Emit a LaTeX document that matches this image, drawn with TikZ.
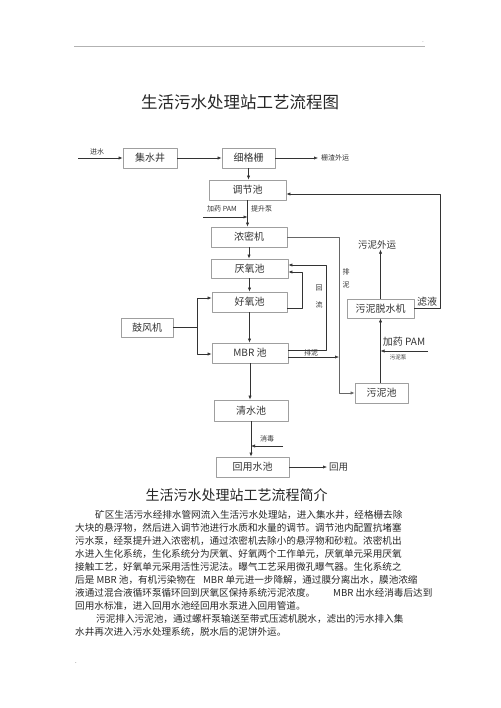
\documentclass[tikz,border=0pt]{standalone}
\usepackage{fontspec}
\newfontfamily\cjk{Noto Sans CJK SC}
\usetikzlibrary{arrows.meta}
\begin{document}
\begin{tikzpicture}[x=1pt,y=-1pt,line join=round,font=\cjk,
	box/.style={draw=gray!75,line width=.7pt,minimum height=20pt,inner sep=0pt,
		text=black!80,font=\cjk\fontsize{10}{11}\selectfont},
	flow/.style={-{Latex[length=4pt,width=3.2pt]},line width=.6pt,draw=black!80},
	link/.style={line width=.6pt,draw=black!80},
	tag/.style={inner sep=0pt,text=black!80,font=\cjk\fontsize{7}{8}\selectfont},
	mid/.style={inner sep=0pt,text=black!80,font=\cjk\fontsize{9.5}{10}\selectfont},
	txt/.style={anchor=west,inner sep=0pt,text=black!85,font=\cjk\fontsize{9.6}{10}\selectfont}]
	\useasboundingbox (0,0) rectangle (500,708);
	% page rule and title
	\draw[gray!60,line width=.5pt] (74,46) -- (425,46);
	\node[tag,font=\cjk\fontsize{5}{5}\selectfont] (dotA) at (423,42) {.};
	\node[text=black!85,font=\cjk\fontsize{16.5}{18}\selectfont] (title) at (240,102) {生活污水处理站工艺流程图};
	% units
	\node[box,minimum width=54pt] (jishui) at (150,158) {集水井};
	\node[box,minimum width=53pt] (gezha) at (248.5,158) {细格栅};
	\node[box,minimum width=77pt] (tiaojie) at (247.5,190) {调节池};
	\node[box,minimum width=76pt] (nongmi) at (249,237) {浓密机};
	\node[box,minimum width=77pt,minimum height=19pt] (yanyang) at (249.5,268.5) {厌氧池};
	\node[box,minimum width=75pt] (haoyang) at (249.5,302) {好氧池};
	\node[box,minimum width=76pt] (mbr) at (250,353) {MBR 池};
	\node[box,minimum width=52pt,minimum height=19pt] (guofeng) at (147,327.5) {鼓风机};
	\node[box,minimum width=74pt,minimum height=21pt] (qingshui) at (251,410.5) {清水池};
	\node[box,minimum width=73pt] (huiyong) at (252.5,467) {回用水池};
	\node[box,minimum width=67pt,minimum height=19pt] (tuoshui) at (380.5,308.5) {污泥脱水机};
	\node[box,minimum width=53pt] (wunichi) at (381.5,393) {污泥池};
	% free ends
	\coordinate (inlet) at (78,158);
	\coordinate (slag) at (318,158);
	\coordinate (pamL) at (203,217);
	\coordinate (dose) at (283,446);
	\coordinate (reuse) at (327,467);
	\coordinate (pamR) at (428,351);
	\coordinate (drain) at (339,237);
	\coordinate (fork) at (197,327.5);
	% main line
	\draw[flow] (inlet) -- (jishui.west);
	\node[tag] (jinshui) at (97,152) {进水};
	\draw[flow] (jishui) -- (gezha);
	\draw[flow] (gezha) -- (slag);
	\node[tag,anchor=west] (zhazha) at (321,158) {栅渣外运};
	\draw[flow] (gezha.south) -- (gezha.south |- tiaojie.north);
	\draw[flow] (tiaojie.south) -- (tiaojie.south |- nongmi.north);
	\draw[flow] (pamL) -- (pamL -| tiaojie.south);
	\node[tag] (pamtag) at (222,209) {加药 PAM};
	\node[tag,anchor=west] (pump) at (251,209) {提升泵};
	\draw[flow] (nongmi.south) -- (nongmi.south |- yanyang.north);
	\draw[flow] (yanyang) -- (haoyang);
	\draw[flow] (haoyang.south) -- (haoyang.south |- mbr.north);
	\draw[flow] (mbr.south) -- (mbr.south |- qingshui.north);
	\draw[flow] (qingshui.south) -- (qingshui.south |- huiyong.north);
	\draw[flow] (dose) -- (dose -| qingshui.south);
	\node[tag] (xiaodu) at (267,439) {消毒};
	\draw[flow] (huiyong) -- (reuse);
	\node[mid,anchor=west] (huiyongtag) at (329,467) {回用};
	% air
	\draw[link] (guofeng.east) -- (fork);
	\draw[flow] (fork) |- (haoyang.west |- 0,298);
	\draw[flow] (fork) |- (mbr.west |- 0,354);
	% return flow
	\draw[flow] (mbr.east |- 0,350) -| (326,265) -- (yanyang.east |- 0,265);
	\draw[flow] (haoyang.east |- 0,308) -| (302,272) -- (yanyang.east |- 0,272);
	\node[tag] (hui) at (319,288) {回};
	\node[tag] (liu) at (319,305) {流};
	% sludge
	\draw[flow,draw=black!60] (nongmi.east) -- (drain) |- (wunichi.west);
	\draw[flow] (mbr.east |- 0,357) -- (drain |- 0,357);
	\node[tag] (painitag) at (311,353) {排泥};
	\node[tag] (pai) at (346,272) {排};
	\node[tag] (ni) at (346,285) {泥};
	\draw[flow] (tuoshui.south |- wunichi.north) -- (tuoshui.south);
	\draw[flow] (pamR) -- (pamR -| tuoshui.south);
	\node[inner sep=0pt,text=black!80,font=\cjk\fontsize{10}{11}\selectfont] (pamRtag) at (404,342) {加药 PAM};
	\node[tag,font=\cjk\fontsize{5.5}{6}\selectfont] (sludgepump) at (398,357) {污泥泵};
	\node[mid] (waiyun) at (377,245) {污泥外运};
	\draw[flow] (tuoshui.north) -- (tuoshui.north |- waiyun.south);
	\draw[flow] (tuoshui.east) -| (440,194) -- (tiaojie.east |- 0,194);
	\node[inner sep=0pt,text=black!80,font=\cjk\fontsize{10}{11}\selectfont] (lvye) at (427,302) {滤液};
	% description
	\node[text=black!85,font=\cjk\fontsize{14}{16}\selectfont] (intro) at (236.5,495) {生活污水处理站工艺流程简介};
	\node[txt] (l1) at (95,515) {矿区生活污水经排水管网流入生活污水处理站，进入集水井，经格栅去除};
	\node[txt] (l2) at (75,528) {大块的悬浮物，然后进入调节池进行水质和水量的调节。调节池内配置抗堵塞};
	\node[txt] (l3) at (75,541) {污水泵，经泵提升进入浓密机，通过浓密机去除小的悬浮物和砂粒。浓密机出};
	\node[txt] (l4) at (75,554) {水进入生化系统，生化系统分为厌氧、好氧两个工作单元，厌氧单元采用厌氧};
	\node[txt] (l5) at (75,567) {接触工艺，好氧单元采用活性污泥法。曝气工艺采用微孔曝气器。生化系统之};
	\node[txt] (l6a) at (75,580) {后是 MBR 池，有机污染物在};
	\node[txt] (l6b) at (203,580) {MBR 单元进一步降解，通过膜分离出水，膜池浓缩};
	\node[txt] (l7a) at (75,593) {液通过混合液循环泵循环回到厌氧区保持系统污泥浓度。};
	\node[txt] (l7b) at (333,593) {MBR 出水经消毒后达到};
	\node[txt] (l8) at (75,606) {回用水标准，进入回用水池经回用水泵进入回用管道。};
	\node[txt] (l9) at (96,619) {污泥排入污泥池，通过螺杆泵输送至带式压滤机脱水，滤出的污水排入集};
	\node[txt] (l10) at (75,632) {水井再次进入污水处理系统，脱水后的泥饼外运。};
	\node[tag,font=\cjk\fontsize{6}{6}\selectfont] (dotB) at (76,663) {.};
\end{tikzpicture}
\end{document}
